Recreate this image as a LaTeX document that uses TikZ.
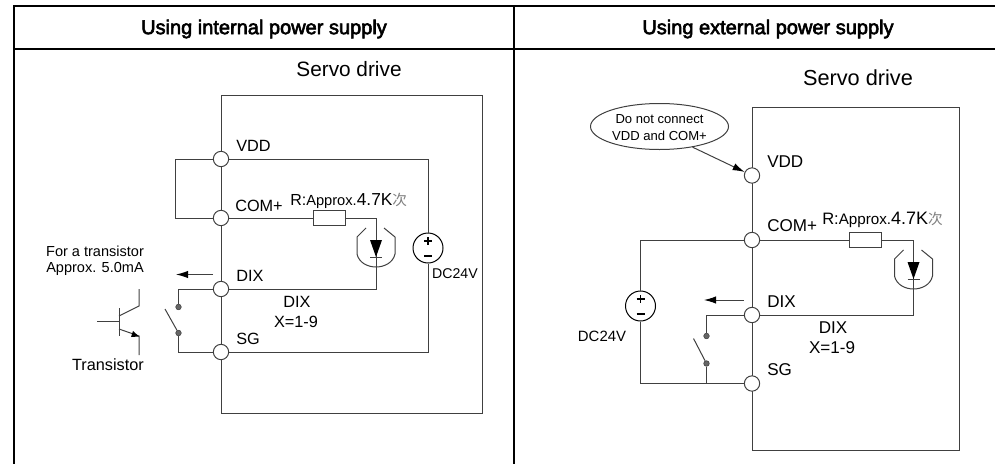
\documentclass[tikz,border=0pt]{standalone}
\usepackage{fontspec}
\setmainfont{Liberation Sans}
\newfontfamily\headfont[FakeBold=3]{Liberation Sans}
\newfontfamily\cjk{Noto Sans CJK SC}
\usetikzlibrary{shapes.geometric,arrows.meta}
\definecolor{wirecol}{rgb}{0.25,0.25,0.25}
\newcommand{\fsz}[1]{\fontsize{#1}{#1}\selectfont}
\newcommand{\ohm}{{\cjk\color{gray}\fsz{11}次}}
\tikzset{
  wire/.style={draw=wirecol,line width=0.75},
  frameline/.style={draw=black,line width=1.5},
  term/.style={circle,draw=wirecol,fill=white,line width=0.75,minimum size=11.5pt,inner sep=0pt},
  dot/.style={circle,draw=wirecol,fill=wirecol!80,minimum size=4.2pt,inner sep=0pt},
  res/.style={rectangle,draw=wirecol,fill=white,line width=0.75,minimum width=24pt,minimum height=11.5pt,inner sep=0pt},
  src/.style={circle,draw=black,fill=white,line width=0.75,minimum size=22.5pt,inner sep=0pt},
  txt/.style={inner sep=0pt,font=\fsz{12.2}},
  flow/.style={wire,-{Latex[length=9pt,width=5.5pt,black]}},
  pics/ledmark/.style={code={
    \begin{scope}[yscale=-1]
    \draw[wire] (-10,10) -- (-19,19) -- (-19,36) .. controls (-17,45) and (-8,49) .. (0,49) .. controls (8,49) and (17,45) .. (19,36) -- (19,19) -- (8,10);
    \fill[black] (-6,22) -- (6,22) -- (0,39) -- cycle;
    \draw[wire] (-6,39) -- (6,39);
    \end{scope}
  }},
  pics/srcmark/.style={code={
    \begin{scope}[yscale=-1]
    \draw[black,line width=0.9] (-4,-7) -- (4,-7) (0,-11) -- (0,-3);
    \draw[black,line width=1.6] (-4,8) -- (4,8);
    \end{scope}
  }}
}
\begin{document}
\begin{tikzpicture}[x=0.75pt,y=0.75pt,yscale=-1,xscale=1]
\useasboundingbox (0,0) rectangle (995,464);

%Table frame
\draw [frameline] (995,6) -- (14,6) -- (14,464);
\draw [frameline] (14,48.5) -- (995,48.5);
\draw [frameline] (514,6) -- (514,464);

% Left: drive box
\draw [wire] (221,95) rectangle (482,413);

% Left: terminals
\node [term] (vddL) at (221,159) {};
\node [term] (comL) at (221,218) {};
\node [term] (dixL) at (221,289) {};
\node [term] (sgL) at (221,352) {};
\node [res] (resL) at (329,218) {};
\node [src] (srcL) at (428,248) {};
\node [dot] (swaL) at (178.5,307) {};
\node [dot] (swbL) at (178.5,333) {};
\coordinate (ledL) at (376,218);
\coordinate (loopL) at (175,159);
\coordinate (turnL) at (428,159);
\coordinate (bladeL) at (165,309);

%Straight Lines
\draw [wire] (vddL) -- (loopL) |- (comL);
\draw [wire] (vddL) -- (turnL) -- (srcL);
\draw [wire] (srcL) |- (sgL);
\draw [wire] (comL) -- (resL);
\draw [wire] (resL) -- (ledL) |- (dixL);
\draw [wire] (dixL) -| (swaL);
\draw [wire] (sgL) -| (swbL);
\draw [wire] (bladeL) -- (swbL);
\pic at (ledL) {ledmark};
\pic at (srcL) {srcmark};

% Left: current arrow
\coordinate (flowaL) at (213,274.5);
\coordinate (flowbL) at (176,274.5);
\draw [flow] (flowaL) -- (flowbL);

% Transistor
\draw [wire] (97,321.5) -- (119,321.5);
\draw [wire] (119,308) -- (119,336);
\draw [wire] (139,289) -- (139,306) -- (119,316);
\draw [wire] (119,329) -- (139,336) -- (139,355);
\fill [black] (139,336.5) -- (131,337) -- (133,331) -- cycle;

% Right: drive box
\draw [wire] (752,107) rectangle (959,450);

% Right: terminals
\node [term] (vddR) at (752,175.5) {};
\node [term] (comR) at (752,240) {};
\node [term] (dixR) at (752,315) {};
\node [term] (sgR) at (752,383.5) {};
\node [res] (resR) at (865.5,240) {};
\node [src] (srcR) at (640.5,306) {};
\node [dot] (swaR) at (706.5,336) {};
\node [dot] (swbR) at (706.5,363.5) {};
\node [ellipse,wire,inner sep=0pt,minimum width=103.5pt,minimum height=34.5pt] (noteR) at (659.5,126.5) {};
\coordinate (ledR) at (913.5,240);
\coordinate (cornerR) at (640.5,383.5);
\coordinate (bladeR) at (693.5,338.5);

%Straight Lines
\draw [wire] (comR) -| (srcR);
\draw [wire] (srcR) -- (cornerR) -- (sgR);
\draw [wire] (comR) -- (resR);
\draw [wire] (resR) -- (ledR) |- (dixR);
\draw [wire] (dixR) -| (swaR);
\draw [wire] (swbR) -- (swbR |- sgR);
\draw [wire] (bladeR) -- (swbR);
\draw [wire,-{Latex[length=9pt,width=5.5pt,black]}] (noteR.-32) -- (vddR);
\pic at (ledR) {ledmark};
\pic at (srcR) {srcmark};

% Right: current arrow
\coordinate (flowaR) at (743.5,300);
\coordinate (flowbR) at (704,300);
\draw [flow] (flowaR) -- (flowbR);

% Text Node
\node [txt,font=\headfont\fsz{15}] (headL) at (264,29) {Using internal power supply};
\node [txt,font=\headfont\fsz{15}] (headR) at (768,29) {Using external power supply};
\node [txt,font=\fsz{15.6}] (servoL) at (349,69) {Servo drive};
\node [txt,font=\fsz{16.3}] (servoR) at (858,78) {Servo drive};
\node [txt,anchor=west] (vddlabL) at (236,146) {VDD};
\node [txt,anchor=west] (comlabL) at (235,206) {COM+};
\node [txt,anchor=west] (rlabL) at (290,201) {\fsz{12}R:\fsz{11}Approx.\fsz{13}4.7K\ohm};
\node [txt,anchor=west] (dixlabL) at (236,276) {DIX};
\node [txt] (dixnameL) at (297,302) {DIX};
\node [txt] (rangeL) at (296,322) {X=1-9};
\node [txt,anchor=west] (sglabL) at (236,339) {SG};
\node [txt] (tranL) at (108,365) {Transistor};
\node [txt,font=\fsz{10.9}] (forL) at (95,251.5) {For a transistor};
\node [txt,font=\fsz{10.9}] (apprL) at (95,269) {Approx. 5.0mA};
\node [txt,font=\fsz{10.6}] (dcL) at (455,274) {DC24V};
\node [txt,font=\fsz{9.8}] (note1R) at (659.5,119) {Do not connect};
\node [txt,font=\fsz{9.8}] (note2R) at (659.5,136) {VDD and COM+};
\node [txt,anchor=west,font=\fsz{12.8}] (vddlabR) at (767,162) {VDD};
\node [txt,anchor=west,font=\fsz{12.8}] (comlabR) at (767,226) {COM+};
\node [txt,anchor=west] (rlabR) at (822,220) {\fsz{12.4}R:\fsz{11.4}Approx.\fsz{13.5}4.7K\ohm};
\node [txt,anchor=west,font=\fsz{12.8}] (dixlabR) at (767,301.5) {DIX};
\node [txt,font=\fsz{12.8}] (dixnameR) at (833,328) {DIX};
\node [txt,font=\fsz{12.8}] (rangeR) at (832,348) {X=1-9};
\node [txt,anchor=west,font=\fsz{12.8}] (sglabR) at (767,370) {SG};
\node [txt,font=\fsz{11.2}] (dcR) at (602,336) {DC24V};
\end{tikzpicture}
\end{document}
